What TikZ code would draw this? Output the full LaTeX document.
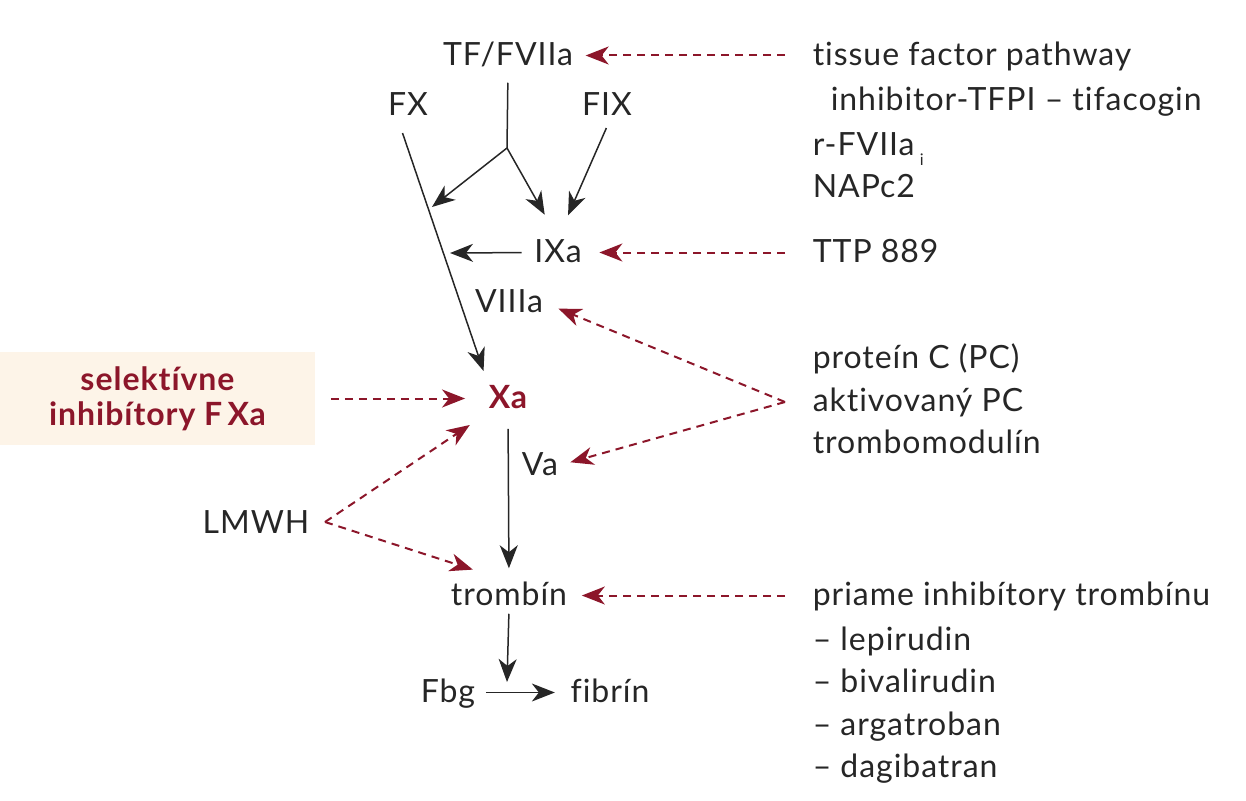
\documentclass[tikz,border=0pt]{standalone}
\usepackage{fontspec}
\setmainfont{Lato}[Ligatures=NoCommon, LetterSpace=3]
\usetikzlibrary{arrows.meta}
\definecolor{inhred}{RGB}{140,22,42}
\definecolor{boxcream}{RGB}{253,244,232}

\begin{document}
\begin{tikzpicture}[x=1pt, y=-1pt, font=\fontsize{32}{38}\selectfont, line width=1.5pt, draw=black!85, text=black!85,
	every node/.style={inner sep=0pt, text height=23pt, text depth=4pt, anchor=base},
	>={Stealth[length=23pt,width=18pt,inset=7pt]},
	inhib/.style={->, draw=inhred, color=inhred, dash pattern=on 8pt off 6pt, line width=2pt},
	drug/.style={anchor=base west}]
	\useasboundingbox (0,0) rectangle (1246,800);
	% cascade
	\node (tf) at (508,65) {TF/FVIIa};
	\node (fx) at (408,115) {FX};
	\node (fix) at (607,115) {FIX};
	\node (ixa) at (558,262) {IXa};
	\node (viiia) at (509,312) {VIIIa};
	\node[font=\fontsize{32}{38}\selectfont\bfseries, text=inhred] (xa) at (508,408) {Xa};
	\node (va) at (540,475) {Va};
	\node (trombin) at (509,605) {trombín};
	\node (fbg) at (448,702) {Fbg};
	\node (fibrin) at (610,702) {fibrín};
	\node (lmwh) at (256,533) {LMWH};
	\node[anchor=center, fill=boxcream, minimum width=315pt, minimum height=93pt, text height={}, text depth={}, align=center,
	  font=\fontsize{32}{35}\selectfont\bfseries, text=inhred] (selinh) at (157.5,398.5) {selektívne\\inhibítory F\,Xa};
	% inhibitors
	\node[drug] (tfpi) at (812,65) {tissue factor pathway};
	\node[drug] (tfpib) at (830,110) {inhibitor-TFPI – tifacogin};
	\node[drug] (rfvii) at (812,155) {r-FVIIa\,\raisebox{-10pt}{\fontsize{16}{16}\selectfont i}};
	\node[drug] (napc) at (812,197) {NAPc2};
	\node[drug] (ttp) at (812,262) {TTP 889};
	\node[drug] (protc) at (812,368) {proteín C (PC)};
	\node[drug] (apc) at (812,411) {aktivovaný PC};
	\node[drug] (tmod) at (812,453) {trombomodulín};
	\node[drug] (dti) at (812,605) {priame inhibítory trombínu};
	\node[drug] (lepi) at (812,650) {– lepirudin};
	\node[drug] (biva) at (812,692) {– bivalirudin};
	\node[drug] (arga) at (812,735) {– argatroban};
	\node[drug] (dabi) at (812,777) {– dagibatran};
	\coordinate (split) at (507,148);
	\coordinate (fxbranch) at (432,207);
	\coordinate (ixleft) at (450,253);
	\coordinate (fbgtip) at (507,682);
	\coordinate (pcfork) at (785,402);
	\coordinate (lmfork) at (325,522);
	% solid arrows
	\draw[shorten <=13pt] (tf.south) -- (split);
	\draw[->] (split) -- (fxbranch);
	\draw[->, shorten >=27pt] (split) -- (ixa.north);
	\draw[->, shorten <=9pt, shorten >=25pt] ([xshift=3pt]fix.south) -- (ixa.north);
	\draw[->, shorten <=12pt] (ixa.west) -- (ixleft);
	\draw[->, shorten <=14pt, shorten >=14pt] ([xshift=-10pt]fx.south) -- (xa.north west);
	\draw[->, shorten <=16pt, shorten >=13pt] (xa.south) -- (trombin.north);
	\draw[->, shorten <=4pt] (trombin.south) -- (fbgtip);
	\draw[->, shorten <=10pt, shorten >=15pt] (fbg.east) -- (fibrin.west);
	% dashed inhibitions
	\draw[inhib, shorten <=27pt, shorten >=12pt] (tfpi.west) -- (tf.east);
	\draw[inhib, shorten <=27pt, shorten >=17pt] (ttp.west) -- (ixa.east);
	\draw[inhib, shorten >=16pt] (pcfork) -- (viiia.east);
	\draw[inhib, shorten >=12pt] (pcfork) -- (va.east);
	\draw[inhib, shorten <=27pt, shorten >=14pt] (dti.west) -- (trombin.east);
	\draw[inhib, shorten <=15pt, shorten >=23pt] (selinh.east |- xa.west) -- (xa.west);
	\draw[inhib, shorten >=22pt] (lmfork) -- (xa.south west);
	\draw[inhib, shorten >=38pt] (lmfork) -- (trombin.north);
\end{tikzpicture}
\end{document}
